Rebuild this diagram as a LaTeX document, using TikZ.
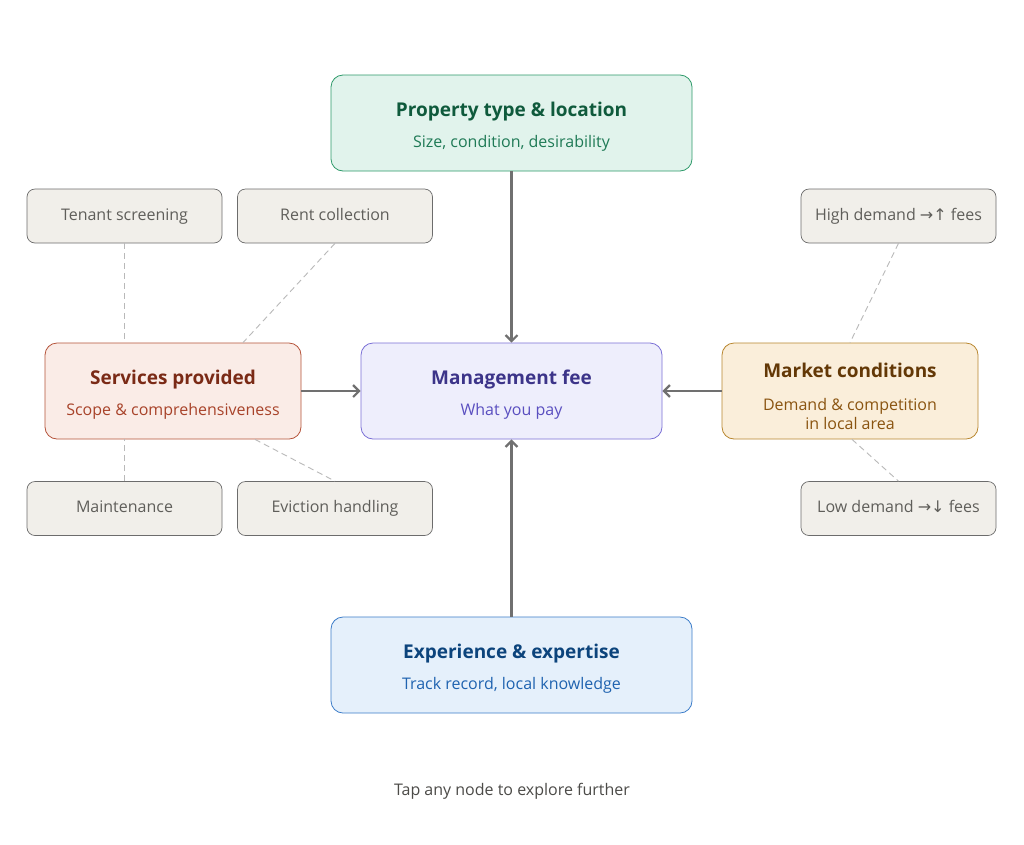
\documentclass[tikz,border=0pt]{standalone}
\usepackage{fontspec}
\setmainfont{Open Sans}
\newfontfamily\symf{DejaVu Sans}
\usetikzlibrary{arrows.meta,calc}
\begin{document}
\begin{tikzpicture}[x=1pt,y=-1pt,
 gb/.style={draw=gray!85!black,fill=gbf,line width=0.7pt,rounded corners=8pt,minimum width=195pt,minimum height=54pt,text height=12pt,text depth=3.5pt,font=\fontsize{16}{18}\selectfont,text=gbt},
 ar/.style={draw=arc,line width=2.2pt,-{Straight Barb[length=6pt,width=12pt]}},
 dl/.style={draw=gray!55,line width=0.9pt,dash pattern=on 6pt off 4pt},
 tt/.style={font=\fontsize{19}{22}\selectfont\bfseries},
 st/.style={font=\fontsize{16}{19}\selectfont}]
\definecolor{gbf}{HTML}{F1EFEA}\definecolor{gbt}{HTML}{5F5E5A}\definecolor{arc}{HTML}{707070}
\definecolor{pf}{HTML}{E1F3EC}\definecolor{pd}{HTML}{2E9A6A}\definecolor{pt}{HTML}{0F5A3C}\definecolor{ps}{HTML}{1F7A56}
\definecolor{mf}{HTML}{EEEEFC}\definecolor{md}{HTML}{7A6FD6}\definecolor{mt}{HTML}{3C3489}\definecolor{ms}{HTML}{5A4FC0}
\definecolor{sf}{HTML}{FAECE7}\definecolor{sd}{HTML}{B5533A}\definecolor{stc}{HTML}{7A2A16}\definecolor{ss}{HTML}{A8432A}
\definecolor{kf}{HTML}{FAEEDA}\definecolor{kd}{HTML}{B8862E}\definecolor{kt}{HTML}{633806}\definecolor{ks}{HTML}{8A5410}
\definecolor{ef}{HTML}{E5F0FB}\definecolor{ed}{HTML}{3B7CC9}\definecolor{et}{HTML}{0C447C}\definecolor{es}{HTML}{1F63B0}
\useasboundingbox[fill=white] (0,0) rectangle (1024,844);
\node[draw=pd,fill=pf,line width=0.8pt,rounded corners=12pt,minimum width=361pt,minimum height=96pt] (prop) at (511.5,123) {};
\node[tt,text=pt] at (511.5,112) {Property type \& location};
\node[st,text=ps] at (511.5,143) {Size, condition, desirability};
\node[draw=md,fill=mf,line width=0.8pt,rounded corners=12pt,minimum width=301pt,minimum height=96pt] (fee) at (511.5,391) {};
\node[tt,text=mt] at (511.5,380) {Management fee};
\node[st,text=ms] at (511.5,411) {What you pay};
\node[draw=sd,fill=sf,line width=0.8pt,rounded corners=12pt,minimum width=256pt,minimum height=96pt] (serv) at (173,391) {};
\node[tt,text=stc] at (173,380) {Services provided};
\node[st,text=ss] at (173,411) {Scope \& comprehensiveness};
\node[draw=kd,fill=kf,line width=0.8pt,rounded corners=12pt,minimum width=256pt,minimum height=96pt] (mkt) at (850,391) {};
\node[tt,text=kt] at (850,370) {Market conditions};
\node[st,text=ks,align=center] at (850,414) {Demand \& competition\\in local area};
\node[draw=ed,fill=ef,line width=0.8pt,rounded corners=12pt,minimum width=361pt,minimum height=96pt] (exp) at (511.5,665) {};
\node[tt,text=et] at (511.5,654) {Experience \& expertise};
\node[st,text=es] at (511.5,685) {Track record, local knowledge};
\node[gb] (ten) at (124.5,216) {Tenant screening};
\node[gb] (rent) at (335,216) {Rent collection};
\node[gb] (mnt) at (124.5,508.5) {Maintenance};
\node[gb] (evi) at (335,508.5) {Eviction handling};
\node[gb] (hi) at (898.5,216) {High demand {\symf →↑} fees};
\node[gb] (lo) at (898.5,508.5) {Low demand {\symf →↓} fees};
\draw[dl] (ten.south) -- (ten.south |- serv.north);
\draw[dl] (rent.south) -- ($(serv.north)+(70,0)$);
\draw[dl] (mnt.north) -- (mnt.north |- serv.south);
\draw[dl] ($(serv.south)+(82,0)$) -- (evi.north);
\draw[dl] (hi.south) -- (mkt.north);
\draw[dl] ($(mkt.south)+(2,0)$) -- (lo.north);
\draw[ar] (prop.south) -- (fee.north);
\draw[ar] (exp.north) -- (fee.south);
\draw[ar] (serv.east) -- (fee.west);
\draw[ar] (mkt.west) -- (fee.east);
\node[font=\fontsize{16}{19}\selectfont,text=gbt!80!black] (foot) at (512,791) {Tap any node to explore further};
\end{tikzpicture}
\end{document}
